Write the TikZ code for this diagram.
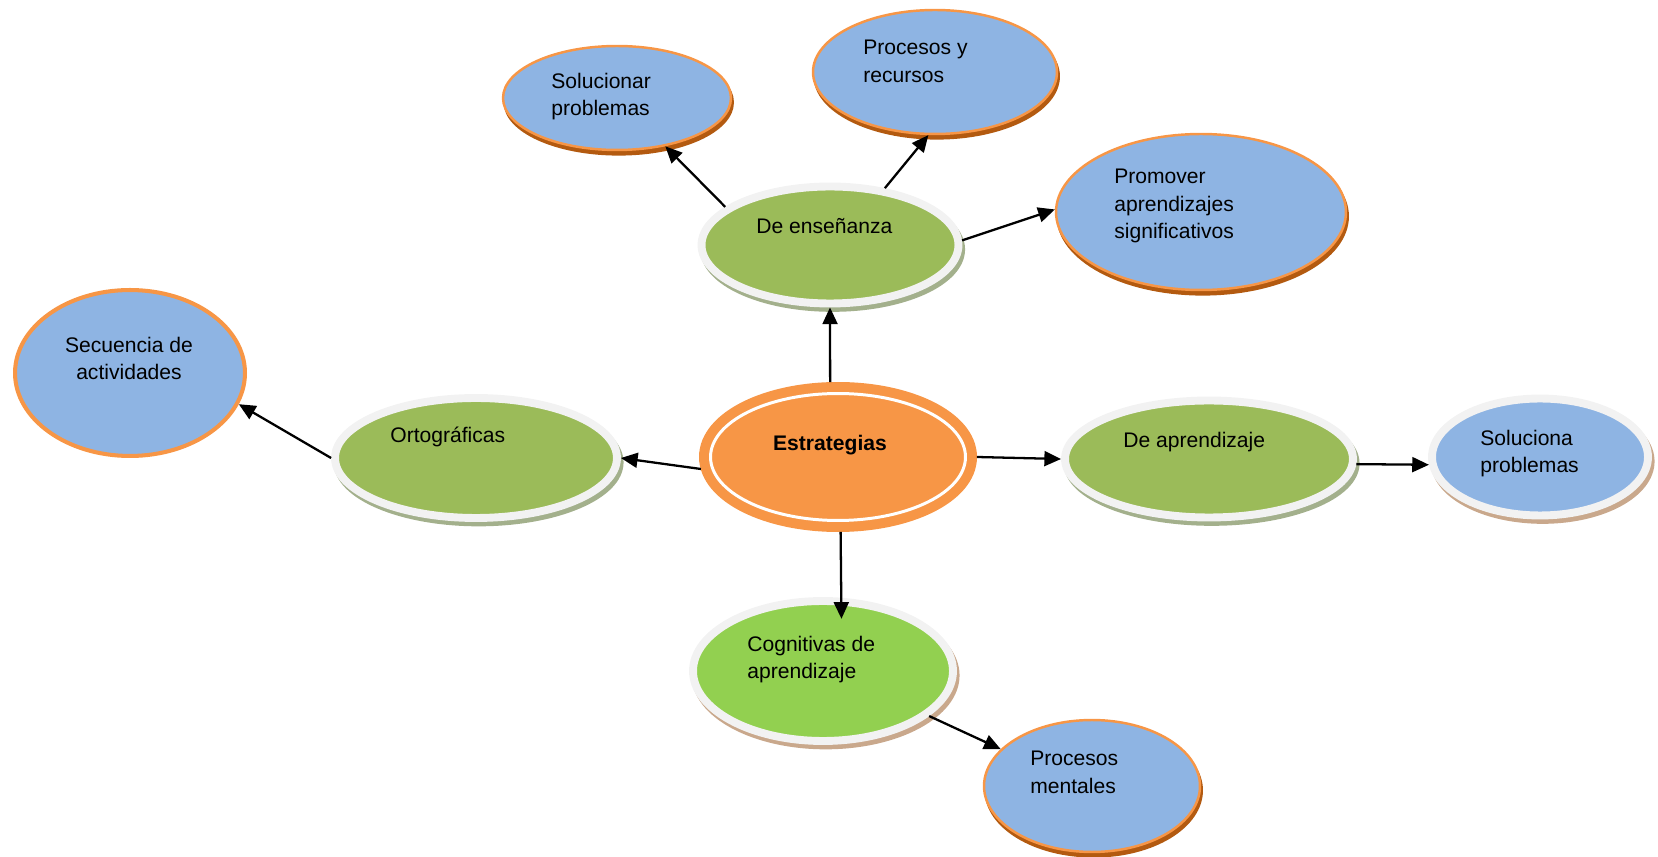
\documentclass[tikz,border=0pt]{standalone}
\usepackage{fontspec}
\setmainfont{Liberation Sans}
\usepackage{tikz}
\usetikzlibrary{shapes.geometric, shadows, arrows.meta}

\definecolor{leafblue}{HTML}{8EB4E3}
\definecolor{rimorange}{HTML}{F79646}
\definecolor{darkorange}{HTML}{B35A10}
\definecolor{olivegreen}{HTML}{9BBB59}
\definecolor{limegreen}{HTML}{92D050}
\definecolor{ringgray}{HTML}{F2F2F2}
\definecolor{greenshade}{HTML}{A3B08C}
\definecolor{tanshade}{HTML}{C9A88C}

\begin{document}
\begin{tikzpicture}[x=0.02cm, y=-0.02cm,
    every node/.style={font=\fontsize{12}{15.5}\selectfont, inner sep=0pt},
    leaf/.style={ellipse, draw=rimorange, line width=1.4pt, fill=leafblue,
      drop shadow={shadow xshift=1pt, shadow yshift=-2.5pt,
        fill=darkorange, draw=darkorange, opacity=1}},
    ringed/.style 2 args={ellipse, draw=ringgray, line width=4.5pt, fill=#1,
      drop shadow={shadow xshift=1.5pt, shadow yshift=-2.5pt,
        fill=#2, draw=#2, opacity=1}},
    words/.style={anchor=north west, align=left},
    conn/.style={line width=1.3pt, -{Triangle[length=9.5pt, width=8.5pt]}}]
    \useasboundingbox (0,0) rectangle (1658,857);

    % centre
    \node[ellipse, fill=rimorange, draw=rimorange, double=white,
          double distance=1.7pt, line width=5.7pt, outer sep=6.5pt,
          minimum width=5.1cm, minimum height=2.54cm] (est) at (838,457) {};
    \node[words, anchor=north, font=\fontsize{12}{15.5}\selectfont\bfseries]
      (est-t) at (830,435) {Estrategias};

    % second level
    \node[ringed={olivegreen}{greenshade}, minimum width=5.14cm,
          minimum height=2.34cm] (ens) at (830,245) {};
    \node[ringed={olivegreen}{greenshade}, minimum width=5.64cm,
          minimum height=2.4cm] (ort) at (476,458) {};
    \node[ringed={olivegreen}{greenshade}, minimum width=5.76cm,
          minimum height=2.34cm] (apr) at (1209,459) {};
    \node[ringed={limegreen}{tanshade}, minimum width=5.2cm,
          minimum height=2.8cm] (cog) at (823,671) {};

    \node[words] (ens-t) at (756,218) {De enseñanza};
    \node[words] (ort-t) at (390,427) {Ortográficas};
    \node[words] (apr-t) at (1123,432) {De aprendizaje};
    \node[words] (cog-t) at (747,636) {Cognitivas de\\aprendizaje};

    % leaves
    \node[leaf, minimum width=4.56cm, minimum height=2.08cm] (sol) at (617,98) {};
    \node[leaf, minimum width=4.88cm, minimum height=2.48cm] (rec) at (935,72) {};
    \node[leaf, minimum width=5.8cm, minimum height=3.12cm] (pro) at (1201,212) {};
    \node[leaf, minimum width=4.32cm, minimum height=2.64cm] (men) at (1092,786) {};
    \node[ellipse, draw=rimorange, line width=2.3pt, fill=leafblue,
          minimum width=4.6cm, minimum height=3.32cm] (sec) at (130,373) {};
    \node[ringed={leafblue}{tanshade}, minimum width=4.32cm,
          minimum height=2.34cm] (slp) at (1540,457) {};

    \node[words] (sol-t) at (551,73) {Solucionar\\problemas};
    \node[words] (rec-t) at (863,40) {Procesos y\\recursos};
    \node[words] (pro-t) at (1114,169) {Promover\\aprendizajes\\significativos};
    \node[words] (men-t) at (1030,751) {Procesos\\mentales};
    \node[words, anchor=north, align=center] (sec-t) at (129,337)
      {Secuencia de\\actividades};
    \node[words] (slp-t) at (1480,430) {Soluciona\\problemas};

    % arrows
    \draw[conn] (est.96) -- (ens.270);
    \draw[conn] (ens.160) -- (sol.315);
    \draw[conn] (ens.46) -- (rec.264);
    \draw[conn] (ens.2) -- (pro.179);
    \draw[conn] (est.185) -- (ort.0);
    \draw[conn] (ort.180) -- (sec.344);
    \draw[conn] (est.0) -- (apr.180);
    \draw[conn] (apr.358) -- (slp.184);
    \draw[conn, shorten >=-12pt] (est.272) -- (cog.76);
    \draw[conn] (cog.337) -- (men.158);
\end{tikzpicture}
\end{document}
